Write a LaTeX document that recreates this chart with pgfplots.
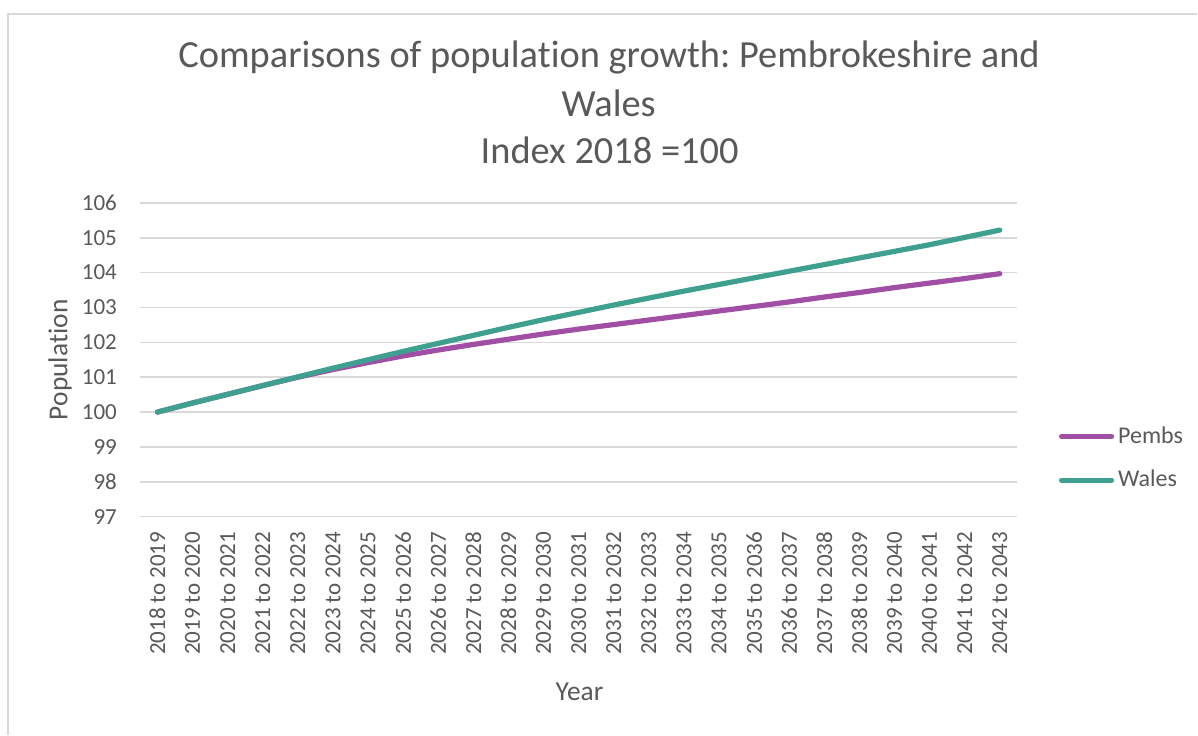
\documentclass[border=0pt]{standalone}
\usepackage{fontspec}
\setmainfont{Carlito}[RawFeature={-liga;-clig;-calt;-dlig}]
\usepackage{pgfplots}
\pgfplotsset{compat=1.18}
\frenchspacing
\definecolor{pembs}{HTML}{A14FA5}
\definecolor{wales}{HTML}{40A08F}
\definecolor{txt}{HTML}{595959}
\definecolor{gridc}{HTML}{D9D9D9}
\definecolor{framec}{HTML}{D9D9D9}

\begin{document}
\begin{tikzpicture}
% page: 1198x735 px at 0.5pt per px
\path[fill=white] (0,0) rectangle (599pt,-367.5pt);
\draw[framec, line width=0.75pt] (4pt,-367.5pt) -- (4pt,-7pt) -- (599pt,-7pt);

\node[txt, font=\fontsize{19.2}{22}\selectfont] at (304.75pt,-29pt) {Comparisons of popula\kern0pt tion growth: Pembrokeshire and};
\node[txt, font=\fontsize{19.2}{22}\selectfont] at (304.5pt,-51.5pt) {Wales};
\node[txt, font=\fontsize{19.2}{22}\selectfont] at (305pt,-75pt) {Index 2018 =100};

\begin{axis}[
  at={(70pt,-258.5pt)}, anchor=south west,
  scale only axis, width=439pt, height=157pt,
  xmin=-0.5, xmax=24.5, ymin=97, ymax=106,
  xtick={0,...,24},
  xticklabels={2018 to 2019,2019 to 2020,2020 to 2021,2021 to 2022,2022 to 2023,2023 to 2024,2024 to 2025,2025 to 2026,2026 to 2027,2027 to 2028,2028 to 2029,2029 to 2030,2030 to 2031,2031 to 2032,2032 to 2033,2033 to 2034,2034 to 2035,2035 to 2036,2036 to 2037,2037 to 2038,2038 to 2039,2039 to 2040,2040 to 2041,2041 to 2042,2042 to 2043},
  ytick={97,...,106},
  axis line style={draw=none},
  major tick length=0pt,
  ymajorgrids, grid style={gridc, line width=0.75pt},
  /pgf/number format/assume math mode=true,
  tick label style={txt, font=\fontsize{11.5}{13}\selectfont},
  x tick label style={rotate=90, anchor=east},
  xticklabel shift=4pt,
  yticklabel shift=8pt,
  xlabel={Year}, ylabel={Popula\kern0pt tion},
  label style={txt, font=\fontsize{13.7}{16}\selectfont},
  xlabel style={at={(axis description cs:0.501,-0.557)}, anchor=center},
  ylabel style={at={(axis description cs:-0.091,0.5)}, anchor=center},
  legend style={at={(axis description cs:1.047,0.186)}, anchor=west, draw=none, fill=none,
    font=\fontsize{12}{14}\selectfont, text=txt, row sep=8pt, inner sep=0pt},
  legend cell align=left,
  legend image code/.code={\draw[#1, line cap=round] (0pt,0pt) -- (25pt,0pt);},
]
\addplot[pembs, line width=2.6pt, line cap=round, line join=round] coordinates {
(0,100) (1,100.26) (2,100.51) (3,100.76) (4,101.00) (5,101.22) (6,101.42) (7,101.61)
(8,101.78) (9,101.94) (10,102.09) (11,102.24) (12,102.38) (13,102.51) (14,102.64)
(15,102.77) (16,102.90) (17,103.03) (18,103.16) (19,103.30) (20,103.43) (21,103.57)
(22,103.70) (23,103.83) (24,103.97)};
\addlegendentry{Pembs}
\addplot[wales, line width=2.6pt, line cap=round, line join=round] coordinates {
(0,100) (1,100.26) (2,100.51) (3,100.76) (4,101.01) (5,101.26) (6,101.50) (7,101.74)
(8,101.97) (9,102.20) (10,102.43) (11,102.65) (12,102.86) (13,103.07) (14,103.27)
(15,103.47) (16,103.66) (17,103.85) (18,104.04) (19,104.23) (20,104.42) (21,104.61)
(22,104.80) (23,105.01) (24,105.22)};
\addlegendentry{Wales}
\end{axis}
\end{tikzpicture}
\end{document}
